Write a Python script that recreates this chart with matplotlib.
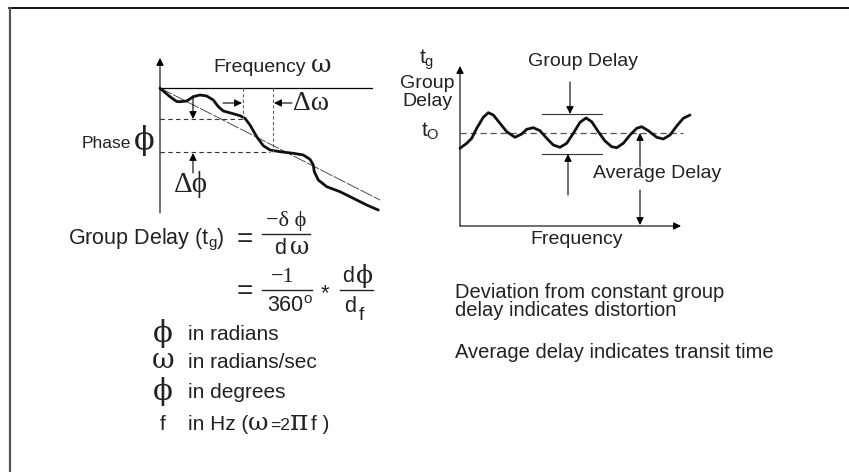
import matplotlib
matplotlib.use('Agg')
import matplotlib.pyplot as plt

plt.rcParams.update({
    'font.family': 'Liberation Sans',
    'mathtext.default': 'regular',
})

SERIF = ['Liberation Serif', 'DejaVu Serif']
GREEK = ['DejaVu Serif']
INK = '#222222'

# phase response (pixel coords, y grows downward)
phase_x = [160, 170, 176.7, 180, 186.7, 193.3, 200, 206.7, 213.3, 218.3, 223.3, 231.7,
           240, 245, 250, 256.7, 263.3, 270, 280, 288.3, 293.3, 303.3, 310, 313.3,
           314.3, 318.3, 326.7, 340, 353.3, 366.7, 378.3]
phase_y = [88.3, 96.7, 101.5, 101.7, 101, 96.7, 95, 96, 100, 106.7, 111, 113.3,
           115.7, 118.3, 125, 136.7, 145.7, 150, 151.7, 152.7, 153.3, 155, 159.3, 165,
           171.7, 180, 186.7, 191.7, 198.3, 205, 210]
trend_x = [160, 380]
trend_y = [88, 200]

# group delay ripple
gd_x = [460, 466.7, 471.7, 476.7, 483.3, 488.3, 493.3, 500, 506.7, 515, 521.7, 526.7,
        533.3, 540, 546.7, 553.3, 560, 566.7, 573.3, 580, 586, 591.7, 598.3, 605,
        611.7, 616.7, 623.3, 630, 636.7, 641.7, 648.3, 656.7, 663.3, 670, 676.7,
        683.3, 690]
gd_y = [148.3, 143.3, 138.3, 128.3, 117.3, 112.7, 115, 123.3, 131.7, 137.3, 134, 129.3,
        127.7, 130.7, 138.3, 145, 147.3, 143.3, 133.3, 122.3, 118, 121.7, 131.7, 141,
        146.7, 147.7, 143.3, 135, 128.3, 126.7, 130.7, 137.3, 139, 135, 126, 118.3,
        115]
t0_level = 133

fig = plt.figure(figsize=(8.49, 4.72), dpi=100)
ax = fig.add_axes([0, 0, 1, 1])
ax.set_xlim(0, 849)
ax.set_ylim(472, 0)
ax.axis('off')


def arrow(x0, y0, x1, y1, lw=0.8):
    ax.annotate('', xy=(x1, y1), xytext=(x0, y0),
                arrowprops=dict(arrowstyle='-|>', lw=lw, color='black',
                                mutation_scale=11, shrinkA=0, shrinkB=0))


# frame
ax.plot([9, 849], [8, 8], color='black', lw=1.3)
ax.plot([10, 10], [8, 472], color='#555555', lw=1.6)

# ---- phase plot ----
arrow(160, 213, 160, 58)
ax.plot([160, 372], [88, 88], color='black', lw=0.9)
ax.plot(trend_x, trend_y, color='#333333', lw=0.6, dashes=(16, 2))
ax.plot(phase_x, phase_y, color='#111111', lw=2.0, solid_capstyle='round')
ax.plot([160, 243], [119, 119], color='#333333', lw=0.8, dashes=(4, 3))
ax.plot([160, 270], [152, 152], color='#333333', lw=0.8, dashes=(4, 3))
ax.plot([243, 243], [88, 119], color='#666666', lw=0.8, dashes=(3, 2))
ax.plot([273, 273], [88, 152], color='#666666', lw=0.8, dashes=(3, 2))
arrow(223, 103, 242, 103)
arrow(292, 103, 274, 103)
arrow(193, 96, 193, 119)
arrow(193, 173, 193, 153)

ax.text(213, 67, 'Frequency', fontsize=14, ha='left', va='center', color=INK)
ax.text(321, 66, 'ω', fontsize=18, family=GREEK, ha='center', va='center', color=INK)
ax.text(293, 103, 'Δω', fontsize=20, family=SERIF, ha='left', va='center', color=INK)
ax.text(82, 143, 'Phase', fontsize=12.5, ha='left', va='center', color=INK)
ax.text(144, 141, 'ϕ', fontsize=22, family=GREEK, ha='center', va='center', color=INK)
ax.text(191, 185, 'Δϕ', fontsize=21, family=SERIF, ha='center', va='center', color=INK)

# ---- group delay plot ----
arrow(460, 226, 460, 66)
arrow(460, 226, 681, 226)
ax.plot([460, 683], [t0_level, t0_level], color='#555555', lw=0.9, dashes=(5, 3))
ax.plot(gd_x, gd_y, color='#111111', lw=2.0, solid_capstyle='round')
ax.plot([542, 602], [114, 114], color='#333333', lw=0.8)
ax.plot([542, 602], [154, 154], color='#333333', lw=0.8)
arrow(570, 82, 570, 114)
arrow(568, 195, 568, 154)
arrow(640, 167, 640, 133)
arrow(640, 190, 640, 225)

ax.text(427, 60, r't$_{g}$', fontsize=15, ha='center', va='center', color=INK)
ax.text(427, 83, 'Group', fontsize=14, ha='center', va='center', color=INK)
ax.text(427, 102, 'Delay', fontsize=14, ha='center', va='center', color=INK)
ax.text(430, 131, r't$_{O}$', fontsize=15, ha='center', va='center', color=INK)
ax.text(583, 62, 'Group Delay', fontsize=14, ha='center', va='center', color=INK)
ax.text(593, 174, 'Average Delay', fontsize=14, ha='left', va='center', color=INK)
ax.text(577, 240, 'Frequency', fontsize=14, ha='center', va='center', color=INK)

# notes
ax.text(455, 292, 'Deviation from constant group', fontsize=14.5, ha='left', va='center', color=INK)
ax.text(455, 311, 'delay indicates distortion', fontsize=14.5, ha='left', va='center', color=INK)
ax.text(455, 353, 'Average delay indicates transit time', fontsize=14.5, ha='left', va='center', color=INK)

# ---- formulas ----
ax.text(68, 240, r'Group Delay (t$_{g}$)', fontsize=15.5, ha='left', va='center', color=INK)
ax.text(245, 240, '=', fontsize=20, ha='center', va='center', color=INK)
ax.text(286, 221, '−δ ϕ', fontsize=16, family=SERIF, ha='center', va='center', color=INK)
ax.plot([262, 310], [234, 234], color=INK, lw=1.0)
ax.text(280, 249, 'd', fontsize=15.5, ha='center', va='center', color=INK)
ax.text(300, 248, 'ω', fontsize=17, family=GREEK, ha='center', va='center', color=INK)

ax.text(245, 292, '=', fontsize=20, ha='center', va='center', color=INK)
ax.text(283, 277, '−1', fontsize=16, family=SERIF, ha='center', va='center', color=INK)
ax.plot([262, 312], [290, 290], color=INK, lw=1.0)
ax.text(290, 306, r'360$^{o}$', fontsize=15.5, ha='center', va='center', color=INK)
ax.text(325, 294, '*', fontsize=16, ha='center', va='center', color=INK)
ax.text(348, 277, 'd', fontsize=15.5, ha='center', va='center', color=INK)
ax.text(365, 276, 'ϕ', fontsize=18, family=GREEK, ha='center', va='center', color=INK)
ax.plot([340, 373], [290, 290], color=INK, lw=1.0)
ax.text(350, 306, 'd', fontsize=15.5, ha='center', va='center', color=INK)
ax.text(361, 316, 'f', fontsize=14, ha='center', va='center', color=INK)

# units list
sym_x, txt_x = 163, 188
ax.text(sym_x, 334, 'ϕ', fontsize=21, family=GREEK, ha='center', va='center', color=INK)
ax.text(txt_x, 335, 'in radians', fontsize=15, ha='left', va='center', color=INK)
ax.text(sym_x, 360, 'ω', fontsize=20, family=GREEK, ha='center', va='center', color=INK)
ax.text(txt_x, 362, 'in radians/sec', fontsize=15, ha='left', va='center', color=INK)
ax.text(sym_x, 391, 'ϕ', fontsize=21, family=GREEK, ha='center', va='center', color=INK)
ax.text(txt_x, 392, 'in degrees', fontsize=15, ha='left', va='center', color=INK)
ax.text(sym_x, 425, 'f', fontsize=15, ha='center', va='center', color=INK)
ax.text(txt_x, 425, 'in Hz (', fontsize=15, ha='left', va='center', color=INK)
ax.text(258, 423, 'ω', fontsize=18, family=GREEK, ha='center', va='center', color=INK)
ax.text(270, 426, '=2', fontsize=12.5, ha='left', va='center', color=INK)
ax.text(299, 423, 'π', fontsize=20, family=GREEK, ha='center', va='center', color=INK)
ax.text(311, 425, 'f )', fontsize=15, ha='left', va='center', color=INK)

fig.savefig('out.png', dpi=100)
